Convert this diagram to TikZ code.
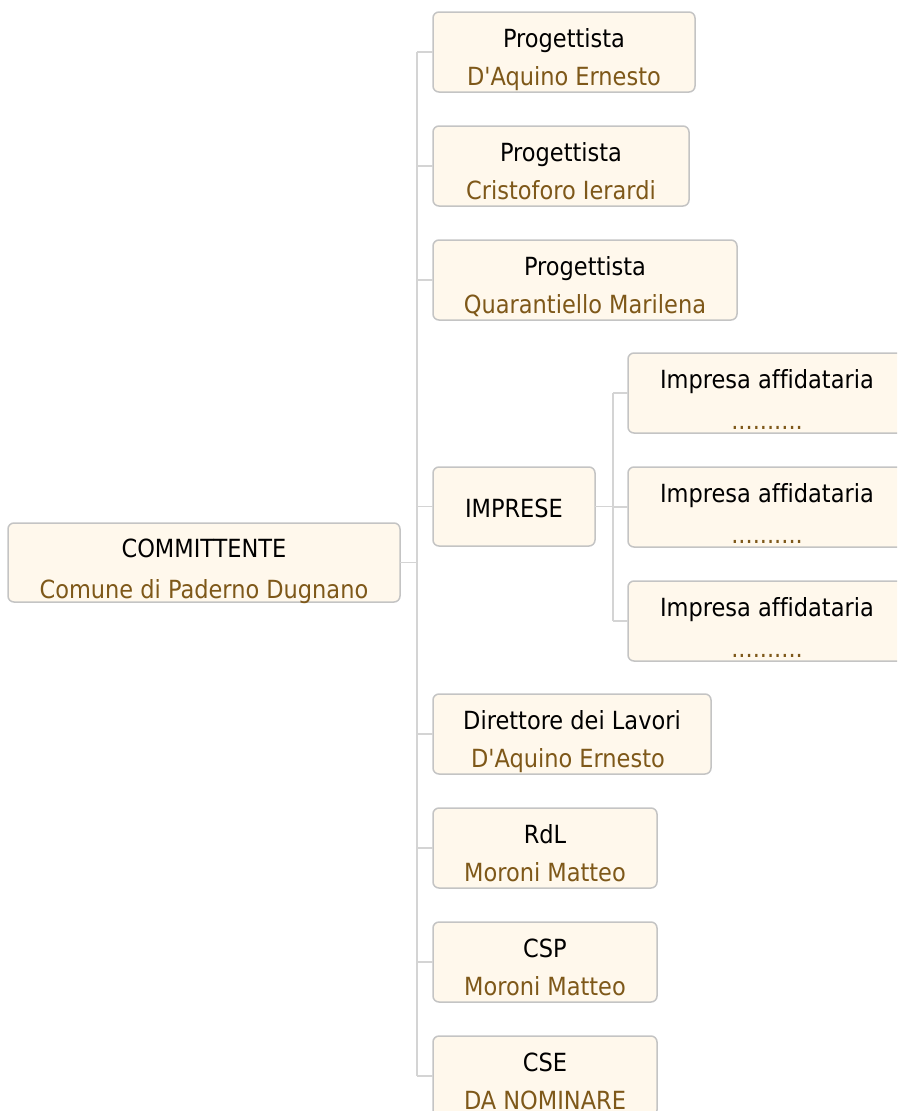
\documentclass[tikz,border=0pt]{standalone}
\usepackage{fontspec}
\setmainfont{DejaVu Sans Condensed}[Ligatures={TeXOff,NoCommon}]
\definecolor{boxfill}{HTML}{FFF8EC}
\definecolor{boxborder}{HTML}{C4C4C4}
\definecolor{linegrey}{HTML}{D4D4D4}
\definecolor{namebrown}{HTML}{7E5819}
\begin{document}
\begin{tikzpicture}[x=1pt,y=-1pt,
  box/.style={draw=boxborder, fill=boxfill, line width=1.5pt, rounded corners=6pt,
    anchor=north west, inner sep=0pt, outer sep=0pt, minimum height=80pt},
  ttl/.style={anchor=base, font=\fontsize{25}{30}\selectfont, text=black, inner sep=0pt},
  nm/.style={ttl, text=namebrown},
  conn/.style={draw=linegrey, line width=1.5pt}]
\useasboundingbox (0,0) rectangle (897,1111);
\clip (0,0) rectangle (897,1111);

% boxes
\node[box, minimum width=392pt, minimum height=79pt] (comm) at (8,523) {};
\node[box, minimum width=262pt] (p1) at (433,12) {};
\node[box, minimum width=256pt] (p2) at (433,126) {};
\node[box, minimum width=304pt] (p3) at (433,240) {};
\node[box, minimum width=162pt, minimum height=79pt] (imp) at (433,467) {};
\node[box, minimum width=280pt] (i1) at (628,353) {};
\node[box, minimum width=280pt] (i2) at (628,467) {};
\node[box, minimum width=280pt] (i3) at (628,581) {};
\node[box, minimum width=278pt] (dl) at (433,694) {};
\node[box, minimum width=224pt] (rdl) at (433,808) {};
\node[box, minimum width=224pt] (csp) at (433,922) {};
\node[box, minimum width=224pt] (cse) at (433,1036) {};

% connectors
\coordinate (trunkTop) at (417,52);
\coordinate (trunkBot) at (417,1076);
\coordinate (subTop) at (613,393);
\coordinate (subBot) at (613,621);
\draw[conn] (trunkTop) -- (trunkBot);
\draw[conn] (comm.east) -- (comm.east -| trunkTop);
\foreach \n in {p1,p2,p3,imp,dl,rdl,csp,cse}{
  \draw[conn] (\n.west -| trunkTop) -- (\n.west);
}
\draw[conn] (subTop) -- (subBot);
\draw[conn] (imp.east) -- (imp.east -| subTop);
\foreach \n in {i1,i2,i3}{
  \draw[conn] (\n.west -| subTop) -- (\n.west);
}

% texts
\node[ttl] (commT) at ([yshift=-34pt]comm.north) {COMMITTENTE};
\node[nm]  (commN) at ([yshift=-75pt]comm.north) {Comune di Paderno Dugnano};
\node[ttl] (p1T) at ([yshift=-35pt]p1.north) {Progettista};
\node[nm]  (p1N) at ([yshift=-73pt]p1.north) {D'Aquino Ernesto};
\node[ttl] (p2T) at ([yshift=-35pt]p2.north) {Progettista};
\node[nm]  (p2N) at ([yshift=-73pt]p2.north) {Cristoforo Ierardi};
\node[ttl] (p3T) at ([yshift=-35pt]p3.north) {Progettista};
\node[nm]  (p3N) at ([yshift=-73pt]p3.north) {Quarantiello Marilena};
\node[ttl] (impT) at ([yshift=-50pt]imp.north) {IMPRESE};
\node[ttl] (i1T) at ([yshift=-35pt,xshift=-1pt]i1.north) {Impresa affidataria};
\node[nm]  (i1N) at ([yshift=-76pt,xshift=-1pt]i1.north) {..........};
\node[ttl] (i2T) at ([yshift=-35pt,xshift=-1pt]i2.north) {Impresa affidataria};
\node[nm]  (i2N) at ([yshift=-76pt,xshift=-1pt]i2.north) {..........};
\node[ttl] (i3T) at ([yshift=-35pt,xshift=-1pt]i3.north) {Impresa affidataria};
\node[nm]  (i3N) at ([yshift=-76pt,xshift=-1pt]i3.north) {..........};
\node[ttl] (dlT) at ([yshift=-35pt]dl.north) {Direttore dei Lavori};
\node[nm]  (dlN) at ([yshift=-73pt,xshift=-4pt]dl.north) {D'Aquino Ernesto};
\node[ttl] (rdlT) at ([yshift=-35pt]rdl.north) {RdL};
\node[nm]  (rdlN) at ([yshift=-73pt]rdl.north) {Moroni Matteo};
\node[ttl] (cspT) at ([yshift=-35pt]csp.north) {CSP};
\node[nm]  (cspN) at ([yshift=-73pt]csp.north) {Moroni Matteo};
\node[ttl] (cseT) at ([yshift=-35pt]cse.north) {CSE};
\node[nm]  (cseN) at ([yshift=-73pt]cse.north) {DA NOMINARE};
\end{tikzpicture}
\end{document}
